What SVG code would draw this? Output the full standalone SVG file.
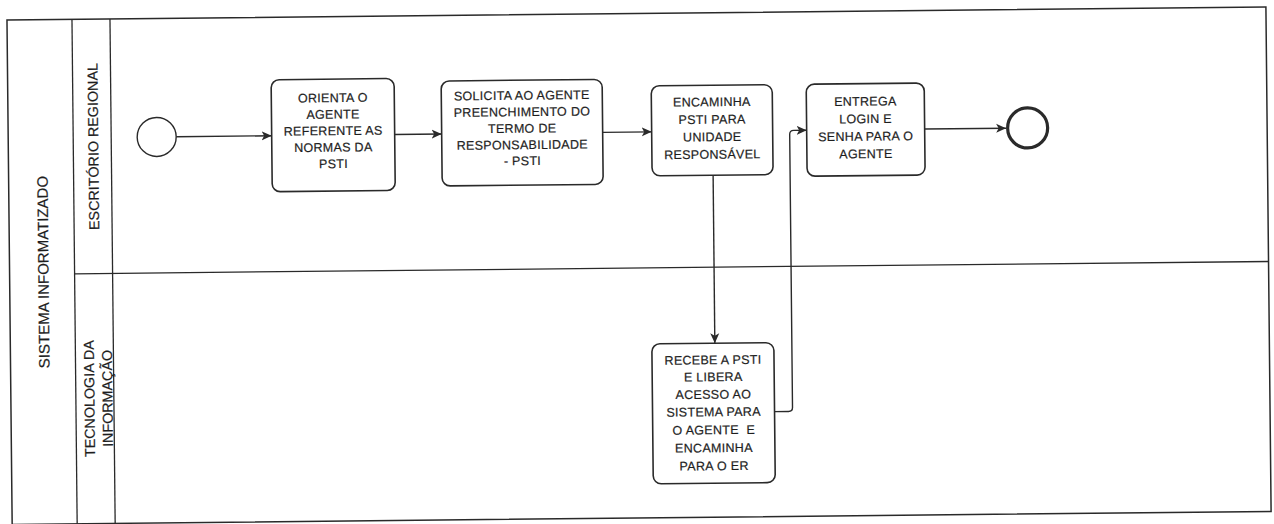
<svg xmlns="http://www.w3.org/2000/svg" width="1274" height="524" viewBox="0 0 1274 524">
<defs>
<marker id="arr" viewBox="0 0 10 10" refX="10" refY="5" markerWidth="10" markerHeight="10" markerUnits="userSpaceOnUse" orient="auto">
<path d="M0,0.5 L10,5 L0,9.5 L2.5,5 Z" fill="#2a2a2a"/>
</marker>
<style>
.pool{fill:#fff;stroke:#2a2a2a;stroke-width:1.5}
.ln{fill:none;stroke:#2a2a2a;stroke-width:1.3}
.task{fill:#fff;stroke:#2a2a2a;stroke-width:1.6}
.ev{fill:#fff;stroke:#2a2a2a;stroke-width:1.4}
.evend{fill:#fff;stroke:#2a2a2a;stroke-width:3.2}
.flow{fill:none;stroke:#2a2a2a;stroke-width:1.4;marker-end:url(#arr)}
.t{font-family:"Liberation Sans",Arial,sans-serif;font-size:12.5px;letter-spacing:0.3px;fill:#1e1e1e;stroke:#1e1e1e;stroke-width:0.2;text-anchor:middle}
.lbl{font-family:"Liberation Sans",Arial,sans-serif;fill:#1e1e1e;stroke:#1e1e1e;stroke-width:0.2;text-anchor:middle}
</style>
</defs>
<rect width="1274" height="524" fill="#fff"/>
<g transform="rotate(-0.59 637 262)">
<g id="pool">
<rect class="pool" x="9.5" y="13.5" width="1259" height="504.5"/>
<line class="ln" x1="74.5" y1="13.5" x2="74.5" y2="518"/>
<line class="ln" x1="112.5" y1="13.5" x2="112.5" y2="518"/>
<line class="ln" x1="74.5" y1="268" x2="1268.5" y2="268"/>
<text class="lbl" font-size="15" transform="translate(48.5 266) rotate(-90)">SISTEMA INFORMATIZADO</text>
</g>
<g id="lane-er">
<text class="lbl" font-size="14.3" transform="translate(99.5 141) rotate(-90)">ESCRITÓRIO REGIONAL</text>
</g>
<g id="lane-ti">
<text class="lbl" font-size="14.3" transform="translate(93 393) rotate(-90)">TECNOLOGIA DA</text>
<text class="lbl" font-size="14.3" transform="translate(111 393) rotate(-90)">INFORMAÇÃO</text>
</g>
<g id="connectors">
<line class="flow" x1="177.5" y1="132" x2="273" y2="132"/>
<line class="flow" x1="396" y1="132" x2="443" y2="132"/>
<line class="flow" x1="604" y1="132" x2="653" y2="132"/>
<line class="flow" x1="714" y1="176" x2="714" y2="344"/>
<path class="flow" d="M773,413 H787 Q791,413 791,409 V136 Q791,132 795,132 H808"/>
<line class="flow" x1="926" y1="132" x2="1007.5" y2="132"/>
</g>
<g id="start">
<circle class="ev" cx="158" cy="132" r="19.5"/>
</g>
<g id="task1">
<rect class="task" x="273" y="76" width="123" height="112" rx="8"/>
<text class="t" x="334.5" y="99">ORIENTA O</text>
<text class="t" x="334.5" y="115.5">AGENTE</text>
<text class="t" x="334.5" y="132">REFERENTE AS</text>
<text class="t" x="334.5" y="148.5">NORMAS DA</text>
<text class="t" x="334.5" y="165">PSTI</text>
</g>
<g id="task2">
<rect class="task" x="443" y="79" width="161" height="105" rx="8"/>
<text class="t" x="523.5" y="98.5">SOLICITA AO AGENTE</text>
<text class="t" x="523.5" y="115">PREENCHIMENTO DO</text>
<text class="t" x="523.5" y="131.5">TERMO DE</text>
<text class="t" x="523.5" y="148">RESPONSABILIDADE</text>
<text class="t" x="523.5" y="164">- PSTI</text>
</g>
<g id="task3">
<rect class="task" x="653" y="86" width="121" height="90" rx="8"/>
<text class="t" x="713.5" y="107">ENCAMINHA</text>
<text class="t" x="713.5" y="124.5">PSTI PARA</text>
<text class="t" x="713.5" y="142">UNIDADE</text>
<text class="t" x="713.5" y="159.5">RESPONSÁVEL</text>
</g>
<g id="task4">
<rect class="task" x="808" y="86" width="118" height="92" rx="8"/>
<text class="t" x="867" y="108">ENTREGA</text>
<text class="t" x="867" y="125.5">LOGIN E</text>
<text class="t" x="867" y="143">SENHA PARA O</text>
<text class="t" x="867" y="160.5">AGENTE</text>
</g>
<g id="end">
<circle class="evend" cx="1029" cy="132" r="20"/>
</g>
<g id="task5">
<rect class="task" x="651" y="344" width="122" height="140" rx="8"/>
<text class="t" x="712" y="365">RECEBE A PSTI</text>
<text class="t" x="712" y="382">E LIBERA</text>
<text class="t" x="712" y="399.5">ACESSO AO</text>
<text class="t" x="712" y="417">SISTEMA PARA</text>
<text class="t" x="712" y="435" xml:space="preserve">O AGENTE  E</text>
<text class="t" x="712" y="453">ENCAMINHA</text>
<text class="t" x="712" y="471">PARA O ER</text>
</g>
</g>
</svg>
